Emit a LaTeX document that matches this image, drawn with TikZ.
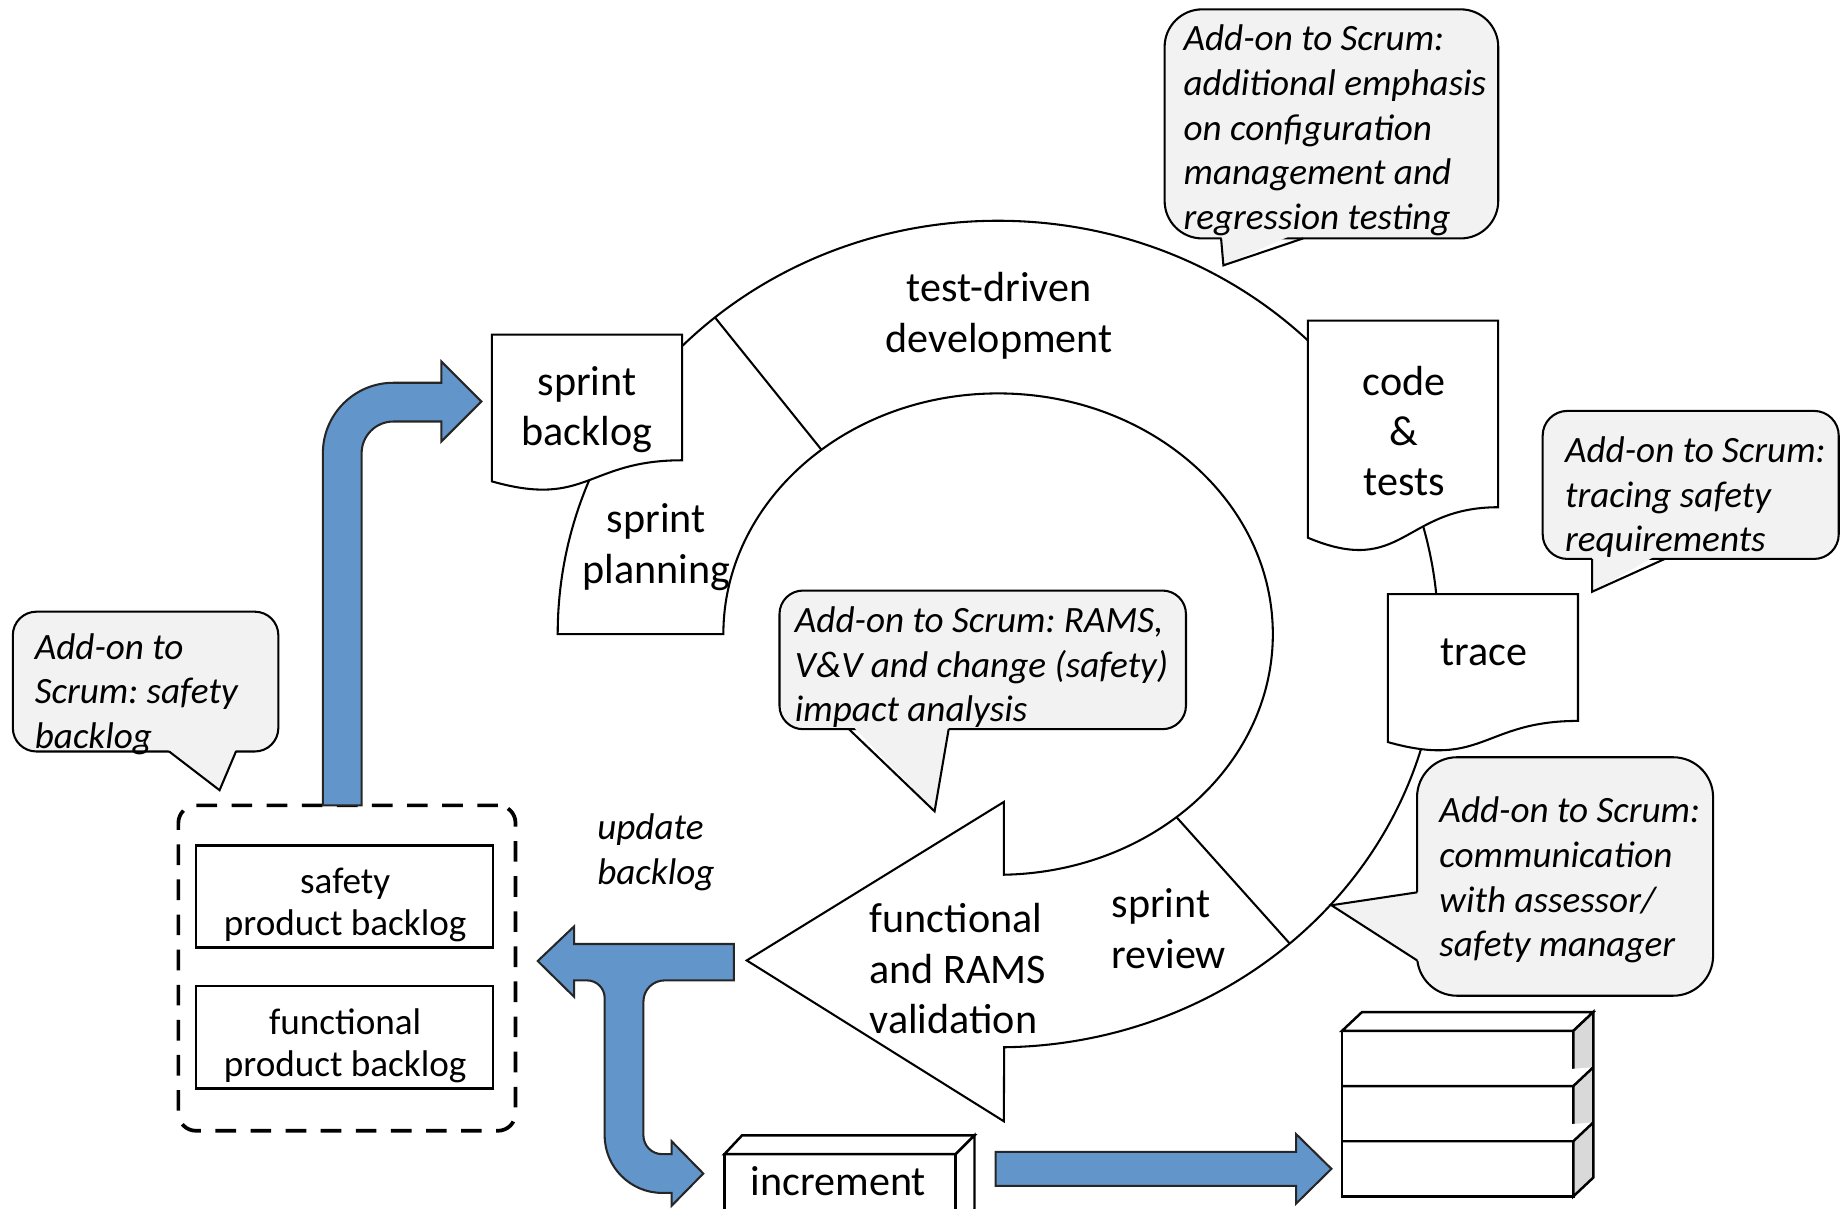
\documentclass[tikz,border=0pt]{standalone}
\usepackage{fontspec}
\setmainfont{Carlito}
\frenchspacing

\definecolor{arrowblue}{RGB}{98,149,202}
\definecolor{notegray}{RGB}{242,242,242}
\definecolor{sidegray}{RGB}{217,217,217}

\def\outerrx{375}
\def\outerry{352}
\def\innerrx{234}
\def\innerry{205}
\def\bigtext{\fontsize{10.2}{12.2}\selectfont}
\def\notefont{\fontsize{9}{10.8}\selectfont\itshape}
\def\smalltext{\fontsize{9}{10.2}\selectfont}

\begin{document}
\begin{tikzpicture}[
x=0.01cm, y=-0.01cm,
% Here are defined the ring, the documents, the notes and the blue arrows
ring/.style={
draw=black, line width=0.5pt, fill=white },
paper/.style={
draw=black, line width=0.5pt, fill=white },
phasetext/.style={
font=\bigtext, align=center, inner sep=0 },
note/.style={
rectangle, rounded corners=0.3cm,
draw=black, line width=0.5pt, inner sep=0,
fill=notegray },
notetext/.style={
font=\notefont, align=left, inner sep=0 },
tail/.style={
draw=black, line width=0.5pt },
bluearrow/.style={
fill=arrowblue, draw=black!85, line width=0.5pt },
pool/.style={
rectangle, rounded corners=0.15cm,
draw=black, line width=0.9pt, dash pattern=on 5pt off 3.5pt,
minimum width=2.87cm, minimum height=2.77cm },
backlog/.style={
rectangle, draw=black, line width=0.6pt, fill=white,
minimum width=2.53cm, minimum height=0.87cm, inner sep=0 },
backlogtext/.style={
font=\smalltext, align=center, inner sep=0 },
cube/.style={
draw=black, line width=0.6pt, fill=white },
]

\useasboundingbox (0,0) rectangle (1568,1029);

%%%%%%%%%%%%%%%%%%%%%%%%
%%% THE SPRINT RING
%%%%%%%%%%%%%%%%%%%%%%%%

% the ring starts at sprint planning and ends in the big arrow head
\coordinate (hub) at (850,540);
\draw[ring] (855,683) -- (855,745)
  arc[start angle=88.8, end angle=-180, x radius=\innerrx, y radius=\innerry]
  -- (475,540)
  arc[start angle=180, end angle=449.2, x radius=\outerrx, y radius=\outerry]
  -- (855,955) -- (636,818) -- cycle;

% the two separators
\draw[ring] ([shift={(230:375 and 352)}]hub) -- ([shift={(230:234 and 205)}]hub);
\draw[ring] ([shift={(48.5:375 and 352)}]hub) -- ([shift={(49.5:234 and 205)}]hub);

\node[phasetext] (tdd) at (851,269) {test-driven\\development};
\node[phasetext] (planning) at (559,466) {sprint\\planning};
\node[phasetext, align=left, anchor=west] (review) at (946,791) {sprint\\review};
\node[phasetext, align=left, anchor=west] (validation) at (740,825) {functional\\and RAMS\\validation};

%%%% The 3 documents on the ring
\draw[paper] (419,285) -- (581,285) -- (581,392) .. controls (500,392) and (500,433) .. (419,410) -- cycle;
\node[phasetext] (sprintbl) at (500,349) {sprint\\backlog};

\draw[paper] (1114,273) -- (1276,273) -- (1276,432) .. controls (1195,432) and (1195,492) .. (1114,458) -- cycle;
\node[phasetext] (codetests) at (1196,367) {code\\\&\\tests};

\draw[paper] (1182,506) -- (1344,506) -- (1344,614) .. controls (1263,614) and (1263,655) .. (1182,632) -- cycle;
\node[phasetext] (trace) at (1264,556) {trace};

%%%%%%%%%%%%%%%%%%%%%%%%
%%% THE ADD-ON NOTES
%%%%%%%%%%%%%%%%%%%%%%%%

% 1st the box, then the tail, then the text
\node[note, rounded corners=0.32cm, minimum width=2.84cm, minimum height=1.95cm] (addcfg) at (1134,105.5) {};
\fill[notegray] (1040,196) -- (1042,226) -- (1110,196) -- cycle;
\draw[tail] (1040,203) -- (1042,226) -- (1110,203);
\node[notetext] (addcfg-txt) at (1137,111)
  {Add-on to Scrum:\\additional emphasis\\on configuration\\management and\\regression testing};

\node[note, rounded corners=0.21cm, minimum width=2.52cm, minimum height=1.26cm] (addtrace) at (1440,413) {};
\fill[notegray] (1356,469) -- (1356,504) -- (1418,469) -- cycle;
\draw[tail] (1356,476) -- (1356,504) -- (1418,476);
\node[notetext] (addtrace-txt) at (1444,423.5)
  {Add-on to Scrum:\\tracing safety\\requirements};

\node[note, rounded corners=0.34cm, minimum width=2.52cm, minimum height=2.03cm] (addcomm) at (1333,746.5) {};
\fill[notegray] (1214,759) -- (1134,771) -- (1214,822) -- cycle;
\draw[tail] (1207,760) -- (1134,771) -- (1207,818);
\node[notetext] (addcomm-txt) at (1337,749.5)
  {Add-on to Scrum:\\communication\\with assessor/\\safety manager};

\node[note, rounded corners=0.2cm, minimum width=3.46cm, minimum height=1.18cm] (addrams) at (837,562) {};
\fill[notegray] (722,614) -- (796,691) -- (809,614) -- cycle;
\draw[tail] (723,621) -- (796,691) -- (808,621);
\node[notetext] (addrams-txt) at (836,568.5)
  {Add-on to Scrum: RAMS,\\V\&V and change (safety)\\impact analysis};

\node[note, rounded corners=0.2cm, minimum width=2.26cm, minimum height=1.19cm] (addsafety) at (124,580.5) {};
\fill[notegray] (136,633) -- (187,673) -- (203,633) -- cycle;
\draw[tail] (144,640) -- (187,673) -- (201,640);
\node[notetext] (addsafety-txt) at (116,591)
  {Add-on to\\Scrum: safety\\backlog};

%%%%%%%%%%%%%%%%%%%%%%%%
%%% THE PRODUCT BACKLOGS
%%%%%%%%%%%%%%%%%%%%%%%%

\node[pool] (pool) at (295.5,824.5) {};
\node[backlog] (safetybl) at (293.5,763.5) {};
\node[backlogtext] (safetybl-txt) at (294,770.5) {safety\\product backlog};
\node[backlog] (funcbl) at (293.5,883.5) {};
\node[backlogtext] (funcbl-txt) at (294,890.5) {functional\\product backlog};

\node[notetext, anchor=west] (update) at (508,726) {update\\backlog};

%%%% The blue arrows
% backlog up to the sprint backlog
\draw[bluearrow] (275,686) -- (275,386) arc[start angle=180, end angle=270, radius=60]
  -- (376,326) -- (376,308) -- (410,342) -- (376,376) -- (376,359) -- (335,359)
  arc[start angle=270, end angle=180, radius=27] -- (308,686) -- cycle;

% validation back to the backlog and down to the increment
\draw[bluearrow] (625,804) -- (489,804) -- (489,789) -- (458,818.5) -- (489,849) -- (489,835) -- (500,835)
  arc[start angle=270, end angle=360, radius=15] -- (515,967)
  arc[start angle=180, end angle=90, radius=49] -- (572,1016) -- (572,1027) -- (599,999.5) -- (572,972) -- (572,983) -- (564,983)
  arc[start angle=90, end angle=180, radius=16] -- (548,853)
  arc[start angle=180, end angle=270, radius=18] -- (625,835) -- cycle;

% increment to the release stack
\draw[bluearrow] (848,981) -- (1104,981) -- (1104,966) -- (1134,995.5) -- (1104,1025) -- (1104,1010) -- (848,1010) -- cycle;

%%%% The increment box and the stack
\draw[cube] (617,983) rectangle (814,1045);
\draw[cube] (617,983) -- (632,967) -- (830,967) -- (814,983) -- cycle;
\draw[cube] (814,983) -- (830,967) -- (830,1030) -- (814,1045) -- cycle;
\node[phasetext] (increment) at (714,1006) {increment};

\draw[cube] (1143,878) rectangle (1340,1019);
\draw[cube] (1143,878) -- (1160,862) -- (1357,862) -- (1340,878) -- cycle;
\draw[cube, fill=sidegray] (1340,878) -- (1357,862) -- (1357,1003) -- (1340,1019) -- cycle;
\draw[cube] (1143,925) -- (1340,925) -- (1357,909);
\draw[cube] (1143,972) -- (1340,972) -- (1357,956);

\end{tikzpicture}
\end{document}
